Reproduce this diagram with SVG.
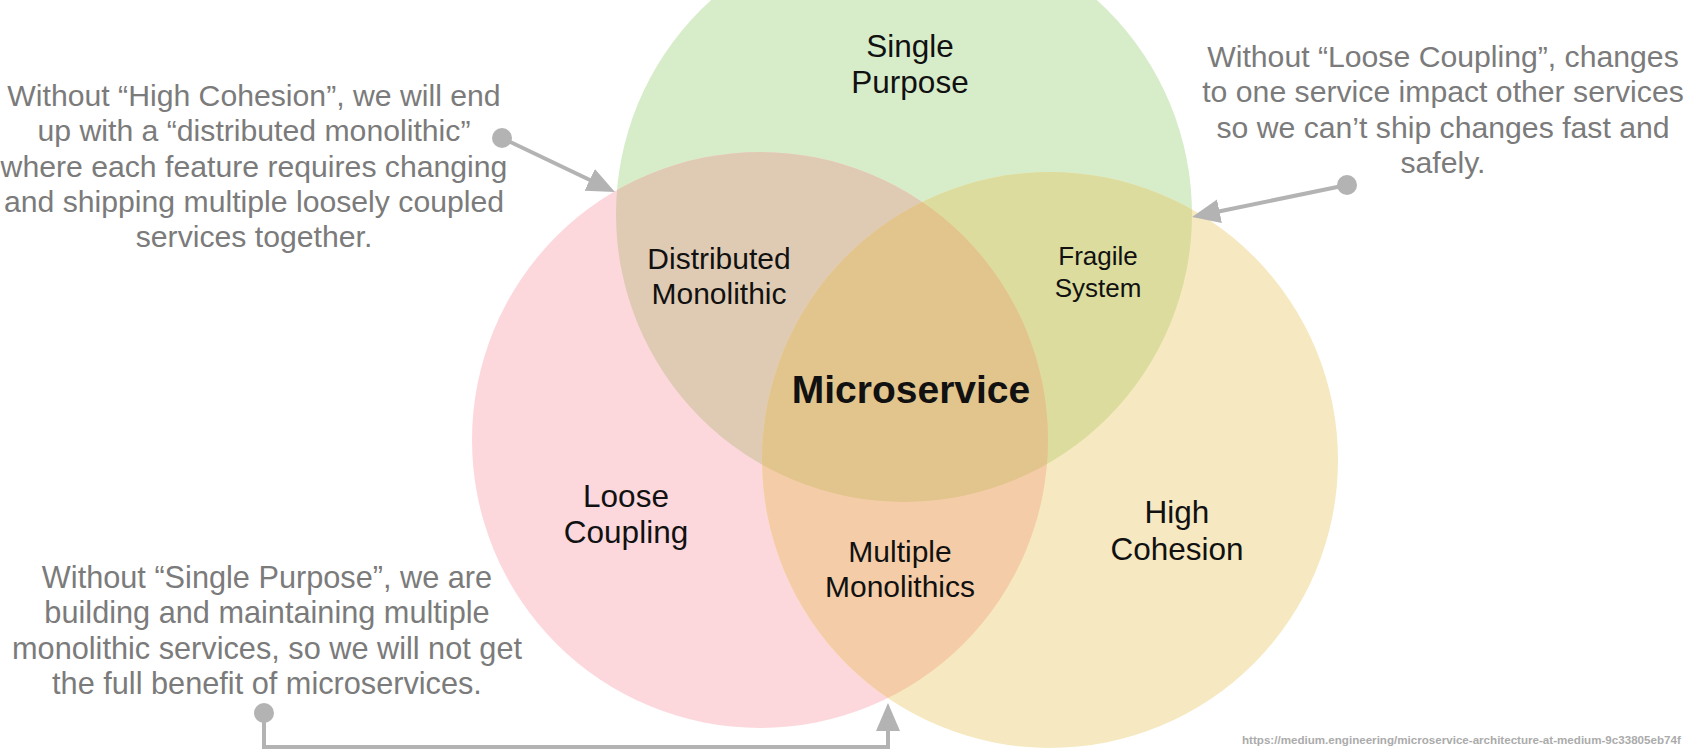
<svg xmlns="http://www.w3.org/2000/svg" width="1688" height="752" viewBox="0 0 1688 752">
<style>
.lbl{font-family:"Liberation Sans",Arial,sans-serif;font-size:31.5px;fill:#111;text-anchor:middle}
.mid{font-size:30px}
.sm{font-size:26px}
.big{font-size:39px;font-weight:bold}
.note{font-family:"Liberation Sans",Arial,sans-serif;font-size:30.2px;fill:#7b7b7b;text-anchor:middle}
.conn{fill:none;stroke:#b3b3b3;stroke-width:4}
.url{font-family:"Liberation Sans",Arial,sans-serif;font-size:11.6px;font-weight:bold;fill:#ababab}
</style>
<defs>
<clipPath id="cG"><circle cx="904" cy="214" r="288"/></clipPath>
<clipPath id="cP"><circle cx="760" cy="440" r="288"/></clipPath>
<marker id="ah" markerUnits="userSpaceOnUse" markerWidth="30" markerHeight="26" refX="2" refY="12" orient="auto"><path d="M0,0 L28,12 L0,24 z" fill="#b3b3b3"/></marker>
<marker id="dot" markerUnits="userSpaceOnUse" markerWidth="22" markerHeight="22" refX="11" refY="11"><circle cx="11" cy="11" r="10" fill="#b3b3b3"/></marker>
</defs>
<rect width="1688" height="752" fill="#ffffff"/>

<g id="single-purpose">
<circle cx="904" cy="214" r="288" fill="#d7edc9"/>
<text class="lbl" x="910" y="57">Single</text>
<text class="lbl" x="910" y="93">Purpose</text>
</g>
<g id="loose-coupling">
<circle cx="760" cy="440" r="288" fill="#fcd8dd"/>
<text class="lbl" x="626" y="507">Loose</text>
<text class="lbl" x="626" y="543">Coupling</text>
</g>
<g id="high-cohesion">
<circle cx="1050" cy="460" r="288" fill="#f6e9c1"/>
<text class="lbl" x="1177" y="523">High</text>
<text class="lbl" x="1177" y="560">Cohesion</text>
</g>
<g id="distributed-monolithic">
<circle cx="760" cy="440" r="288" fill="#dfcbb3" clip-path="url(#cG)"/>
<text class="lbl mid" x="719" y="269">Distributed</text>
<text class="lbl mid" x="719" y="304">Monolithic</text>
</g>
<g id="fragile-system">
<circle cx="1050" cy="460" r="288" fill="#dbdc9d" clip-path="url(#cG)"/>
<text class="lbl sm" x="1098" y="265">Fragile</text>
<text class="lbl sm" x="1098" y="297">System</text>
</g>
<g id="multiple-monolithics">
<circle cx="1050" cy="460" r="288" fill="#f4cda8" clip-path="url(#cP)"/>
<text class="lbl mid" x="900" y="562">Multiple</text>
<text class="lbl mid" x="900" y="597">Monolithics</text>
</g>
<g id="microservice">
<g clip-path="url(#cG)"><circle cx="1050" cy="460" r="288" fill="#e2c48d" clip-path="url(#cP)"/></g>
<text class="lbl big" x="911" y="403">Microservice</text>
</g>

<g id="note-high-cohesion">
<text class="note" x="254" y="106">Without “High Cohesion”, we will end</text>
<text class="note" x="254" y="141">up with a “distributed monolithic”</text>
<text class="note" x="254" y="177">where each feature requires changing</text>
<text class="note" x="254" y="212">and shipping multiple loosely coupled</text>
<text class="note" x="254" y="247">services together.</text>
</g>
<g id="note-loose-coupling">
<text class="note" x="1443" y="67">Without “Loose Coupling”, changes</text>
<text class="note" x="1443" y="102">to one service impact other services</text>
<text class="note" x="1443" y="138">so we can’t ship changes fast and</text>
<text class="note" x="1443" y="173">safely.</text>
</g>
<g id="note-single-purpose">
<text class="note" x="267" y="588" style="font-size:30.7px">Without “Single Purpose”, we are</text>
<text class="note" x="267" y="623" style="font-size:30.7px">building and maintaining multiple</text>
<text class="note" x="267" y="659" style="font-size:30.7px">monolithic services, so we will not get</text>
<text class="note" x="267" y="694" style="font-size:30.7px">the full benefit of microservices.</text>
</g>

<g id="connectors">
<path class="conn" d="M502,138 L591.5,180.8" marker-start="url(#dot)" marker-end="url(#ah)"/>
<path class="conn" d="M1347,185 L1217.5,211.7" marker-start="url(#dot)" marker-end="url(#ah)"/>
<path class="conn" d="M264,713 V747 H888 V729" marker-start="url(#dot)" marker-end="url(#ah)"/>
</g>

<text class="url" x="1242" y="744">https://medium.engineering/microservice-architecture-at-medium-9c33805eb74f</text>
</svg>
